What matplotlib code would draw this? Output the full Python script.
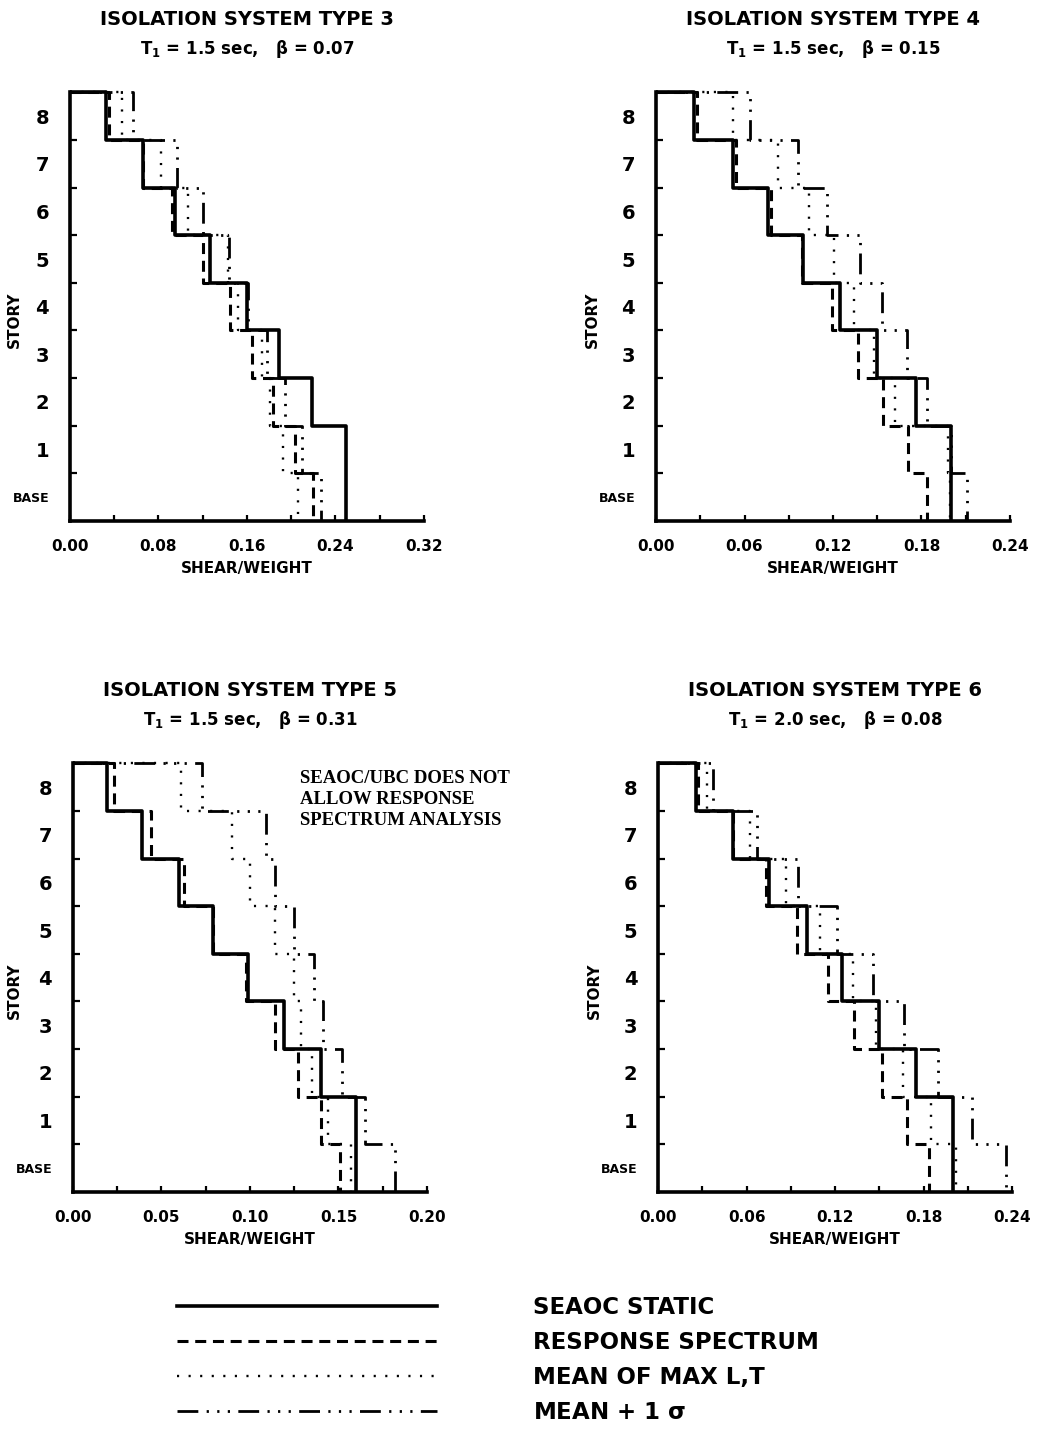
import numpy as np
import matplotlib
matplotlib.use("Agg")
import matplotlib.pyplot as plt
from matplotlib.lines import Line2D

plt.rcParams["font.family"] = ["DejaVu Sans"]
plt.rcParams["font.weight"] = "bold"
plt.rcParams["mathtext.default"] = "bf"

# story shear / weight, listed from BASE up to story 8
stories = ["BASE", "1", "2", "3", "4", "5", "6", "7", "8"]

titles = ["ISOLATION SYSTEM TYPE 3", "ISOLATION SYSTEM TYPE 4",
          "ISOLATION SYSTEM TYPE 5", "ISOLATION SYSTEM TYPE 6"]
subtitles = [r"T$_1$ = 1.5 sec,   $\beta$ = 0.07",
             r"T$_1$ = 1.5 sec,   $\beta$ = 0.15",
             r"T$_1$ = 1.5 sec,   $\beta$ = 0.31",
             r"T$_1$ = 2.0 sec,   $\beta$ = 0.08"]
xmax = [0.32, 0.24, 0.20, 0.24]
xstep = [0.08, 0.06, 0.05, 0.06]

static_type3 = [0.250, 0.250, 0.219, 0.189, 0.160, 0.127, 0.095, 0.066, 0.033]
spectrum_type3 = [0.220, 0.203, 0.184, 0.165, 0.145, 0.120, 0.092, 0.066, 0.035]
mean_type3 = [0.206, 0.193, 0.181, 0.174, 0.152, 0.143, 0.107, 0.082, 0.047]
sigma_type3 = [0.227, 0.210, 0.194, 0.178, 0.161, 0.144, 0.120, 0.097, 0.057]

static_type4 = [0.200, 0.200, 0.176, 0.150, 0.125, 0.100, 0.076, 0.052, 0.026]
spectrum_type4 = [0.184, 0.171, 0.154, 0.137, 0.119, 0.099, 0.078, 0.054, 0.028]
mean_type4 = [0.199, 0.198, 0.162, 0.148, 0.134, 0.121, 0.104, 0.083, 0.052]
sigma_type4 = [0.211, 0.200, 0.184, 0.170, 0.153, 0.138, 0.116, 0.096, 0.064]

static_type5 = [0.160, 0.160, 0.140, 0.119, 0.099, 0.079, 0.060, 0.039, 0.019]
spectrum_type5 = [0.151, 0.140, 0.127, 0.114, 0.098, 0.079, 0.063, 0.044, 0.023]
mean_type5 = [0.157, 0.144, 0.135, 0.129, 0.125, 0.114, 0.100, 0.090, 0.061]
sigma_type5 = [0.182, 0.165, 0.152, 0.141, 0.136, 0.125, 0.114, 0.109, 0.073]

static_type6 = [0.200, 0.200, 0.175, 0.150, 0.125, 0.101, 0.075, 0.051, 0.026]
spectrum_type6 = [0.184, 0.169, 0.152, 0.133, 0.115, 0.094, 0.073, 0.051, 0.027]
mean_type6 = [0.202, 0.185, 0.166, 0.148, 0.132, 0.110, 0.087, 0.062, 0.033]
sigma_type6 = [0.236, 0.213, 0.190, 0.167, 0.146, 0.121, 0.095, 0.067, 0.037]

panels = [
    [static_type3, spectrum_type3, mean_type3, sigma_type3],
    [static_type4, spectrum_type4, mean_type4, sigma_type4],
    [static_type5, spectrum_type5, mean_type5, sigma_type5],
    [static_type6, spectrum_type6, mean_type6, sigma_type6],
]

series_labels = ["SEAOC STATIC", "RESPONSE SPECTRUM", "MEAN OF MAX L,T",
                 r"MEAN + 1 $\sigma$"]
series_styles = [
    dict(color="black", lw=2.6, ls="-"),
    dict(color="black", lw=2.2, ls=(0, (3.6, 2.2))),
    dict(color="black", lw=1.7, ls=(0, (0.9, 4.0))),
    dict(color="black", lw=2.0, ls=(0, (7.5, 3.0, 0.8, 3.0, 0.8, 3.0, 0.8, 3.0))),
]

# axes rectangles in figure fractions
positions = [
    [0.0674, 0.639, 0.341, 0.297],
    [0.632, 0.639, 0.341, 0.297],
    [0.0703, 0.174, 0.341, 0.297],
    [0.634, 0.174, 0.341, 0.297],
]
ylabel_x = [-0.135, -0.16, -0.145, -0.16]


def story_steps(vals):
    top_down = np.array(vals[::-1])
    xs = np.concatenate([[0.0], np.repeat(top_down, 2)])
    ys = np.concatenate([[9], np.repeat(np.arange(9, 0, -1), 2)[1:], [0]])
    return xs, ys


fig = plt.figure(figsize=(10.38, 14.43), dpi=100)

for k in range(4):
    ax = fig.add_axes(positions[k])
    # draw the thinner lines first so the solid one sits on top
    for i in [3, 2, 1, 0]:
        xs, ys = story_steps(panels[k][i])
        ax.plot(xs, ys, **series_styles[i], solid_capstyle="butt", clip_on=False)

    ax.set_xlim(0, xmax[k])
    ax.set_ylim(0, 9)
    for side in ["top", "right"]:
        ax.spines[side].set_visible(False)
    for side in ["left", "bottom"]:
        ax.spines[side].set_linewidth(2.6)

    ticks = np.arange(0, xmax[k] + xstep[k] / 2, xstep[k])
    ax.set_xticks(ticks)
    ax.set_xticklabels(["%.2f" % t for t in ticks], fontsize=11, fontweight="bold")
    ax.set_xticks(ticks[:-1] + xstep[k] / 2, minor=True)
    ax.tick_params(axis="x", which="both", direction="in", length=4, width=1.6, pad=13)

    ax.set_yticks(np.arange(1, 9))
    ax.set_yticklabels([])
    ax.set_yticks(np.arange(0.5, 9, 1.0), minor=True)
    ax.set_yticklabels(stories, minor=True, fontsize=14, fontweight="bold")
    ax.tick_params(axis="y", which="major", direction="in", length=5, width=1.6)
    ax.tick_params(axis="y", which="minor", length=0, pad=15)
    ax.get_yticklabels(minor=True)[0].set_fontsize(9)

    ax.set_xlabel("SHEAR/WEIGHT", fontsize=11, fontweight="bold", labelpad=5)
    ax.set_ylabel("STORY", fontsize=11, fontweight="bold")
    ax.yaxis.set_label_coords(ylabel_x[k], 0.47)

    ax.text(0.5, 1.17, titles[k], transform=ax.transAxes, ha="center",
            va="center", fontsize=14, fontweight="bold")
    ax.text(0.5, 1.1, subtitles[k], transform=ax.transAxes, ha="center",
            va="center", fontsize=12, fontweight="bold")

    if k == 2:
        ax.text(0.64, 0.985, "SEAOC/UBC DOES NOT\nALLOW RESPONSE\nSPECTRUM ANALYSIS",
                transform=ax.transAxes, ha="left", va="top", fontsize=13.5,
                fontweight="bold", family=["Liberation Serif", "DejaVu Serif"],
                linespacing=1.3)

handles = [Line2D([], [], **s) for s in series_styles]
fig.legend(handles, series_labels, loc="upper left", bbox_to_anchor=(0.151, 0.116),
           frameon=False, handlelength=11.35, handletextpad=4.15,
           labelspacing=0.52, prop={"weight": "bold", "size": 16.5})

fig.savefig("out.png", dpi=100)
